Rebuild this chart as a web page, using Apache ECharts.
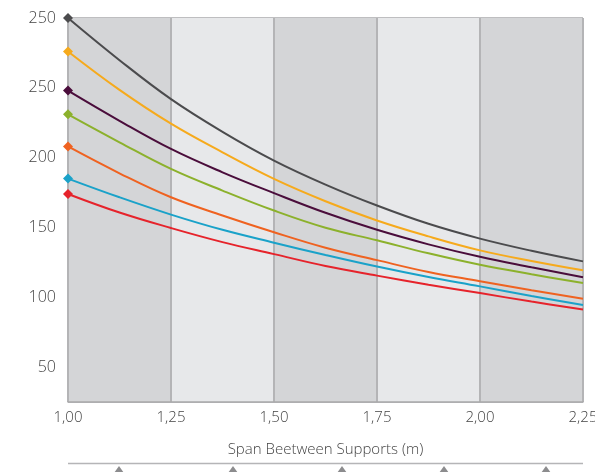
<!DOCTYPE html>
<html>
<head>
<meta charset="utf-8">
<script src="https://cdn.jsdelivr.net/npm/echarts@6/dist/echarts.min.js"></script>
<style>html,body{margin:0;padding:0;background:#fff;}#c{width:595px;height:472px;}</style>
</head>
<body>
<div id="c"></div>
<script>
const spans = [1.000, 1.125, 1.250, 1.375, 1.500, 1.625, 1.750, 1.875, 2.000, 2.125, 2.250];
const grayVals   = [300, 269.8, 241.9, 218.5, 197.9, 180.7, 165.7, 152.6, 142.0, 133.3, 125.7];
const yellowVals = [276, 248.5, 224.3, 203.8, 184.8, 168.8, 155.0, 143.6, 133.6, 126.0, 119.3];
const purpleVals = [248, 226.4, 206.2, 189.5, 174.6, 160.5, 148.3, 137.9, 129.0, 121.5, 114.3];
const greenVals  = [231, 211.0, 191.9, 176.4, 162.1, 149.8, 140.8, 131.5, 123.3, 116.5, 110.2];
const orangeVals = [208, 188.8, 171.6, 158.6, 146.6, 135.5, 126.6, 118.1, 111.5, 105.0, 99.0];
const blueVals   = [185, 171.6, 159.2, 148.3, 139.1, 130.3, 122.0, 114.5, 107.8, 100.9, 94.5];
const redVals    = [174, 160.7, 149.6, 139.5, 130.9, 122.4, 115.5, 109.0, 103.0, 96.9, 91.2];
const yTickLabels = {300: '250', 250: '250', 200: '200', 150: '150', 100: '100', 50: '50'};
const xAxisTitle = 'Span Beetween Supports (m)';

const seriesDefs = [
  {vals: grayVals, color: '#4b4b4d'},
  {vals: yellowVals, color: '#f6aa1c'},
  {vals: purpleVals, color: '#4a0d3b'},
  {vals: greenVals, color: '#8cb12c'},
  {vals: orangeVals, color: '#ef6220'},
  {vals: blueVals, color: '#1aa2c9'},
  {vals: redVals, color: '#e6232b'}
];

const font = '"Open Sans", "Noto Sans", sans-serif';
const chart = echarts.init(document.getElementById('c'), null, {renderer: 'canvas'});
const triXs = [119, 233, 342, 444, 546];
const graphics = [{
  type: 'line', shape: {x1: 68, y1: 463.5, x2: 583, y2: 463.5},
  style: {stroke: '#b5b5b7', lineWidth: 1.5}, silent: true
}].concat(triXs.map(x => ({
  type: 'polygon', shape: {points: [[x - 5, 473], [x, 466], [x + 5, 473]]},
  style: {fill: '#8c8c8e'}, silent: true
})));

chart.setOption({
  animation: false,
  backgroundColor: '#ffffff',
  grid: {left: 68, right: 12, top: 18, bottom: 70, containLabel: false, outerBoundsMode: 'none'},
  xAxis: {
    type: 'value', min: 1, max: 2.25, interval: 0.25,
    name: xAxisTitle, nameLocation: 'middle', nameGap: 40,
    nameTextStyle: {fontFamily: font, fontSize: 15, color: '#444', fontWeight: 300},
    axisLine: {show: true, lineStyle: {color: '#a9a9ab', width: 1.5}},
    axisTick: {show: false},
    axisLabel: {fontFamily: font, fontSize: 15, color: '#444', fontWeight: 300, margin: 8,
      formatter: v => v.toFixed(2).replace('.', ',')},
    splitLine: {show: true, lineStyle: {color: '#b4b4b6', width: 2}},
    splitArea: {show: true, areaStyle: {color: ['#d4d5d7', '#e7e8ea']}}
  },
  yAxis: {
    type: 'value', min: 25, max: 300, interval: 25,
    axisLine: {show: false}, axisTick: {show: false},
    axisLabel: {fontFamily: font, fontSize: 16, color: '#444', fontWeight: 300, margin: 12,
      formatter: v => (yTickLabels[v] !== undefined ? yTickLabels[v] : '')},
    splitLine: {show: true, lineStyle: {color: '#a9a9ab', width: 1.5}}
  },
  graphic: graphics,
  series: seriesDefs.map(s => ({
    type: 'line', smooth: 0.4,
    data: spans.map((x, i) => [x, s.vals[i]]),
    lineStyle: {color: s.color, width: 2},
    itemStyle: {color: s.color},
    symbol: 'diamond', showSymbol: true,
    symbolSize: (v, p) => (p.dataIndex === 0 ? 10 : 0),
    clip: false, z: 3
  }))
});
</script>
</body>
</html>
